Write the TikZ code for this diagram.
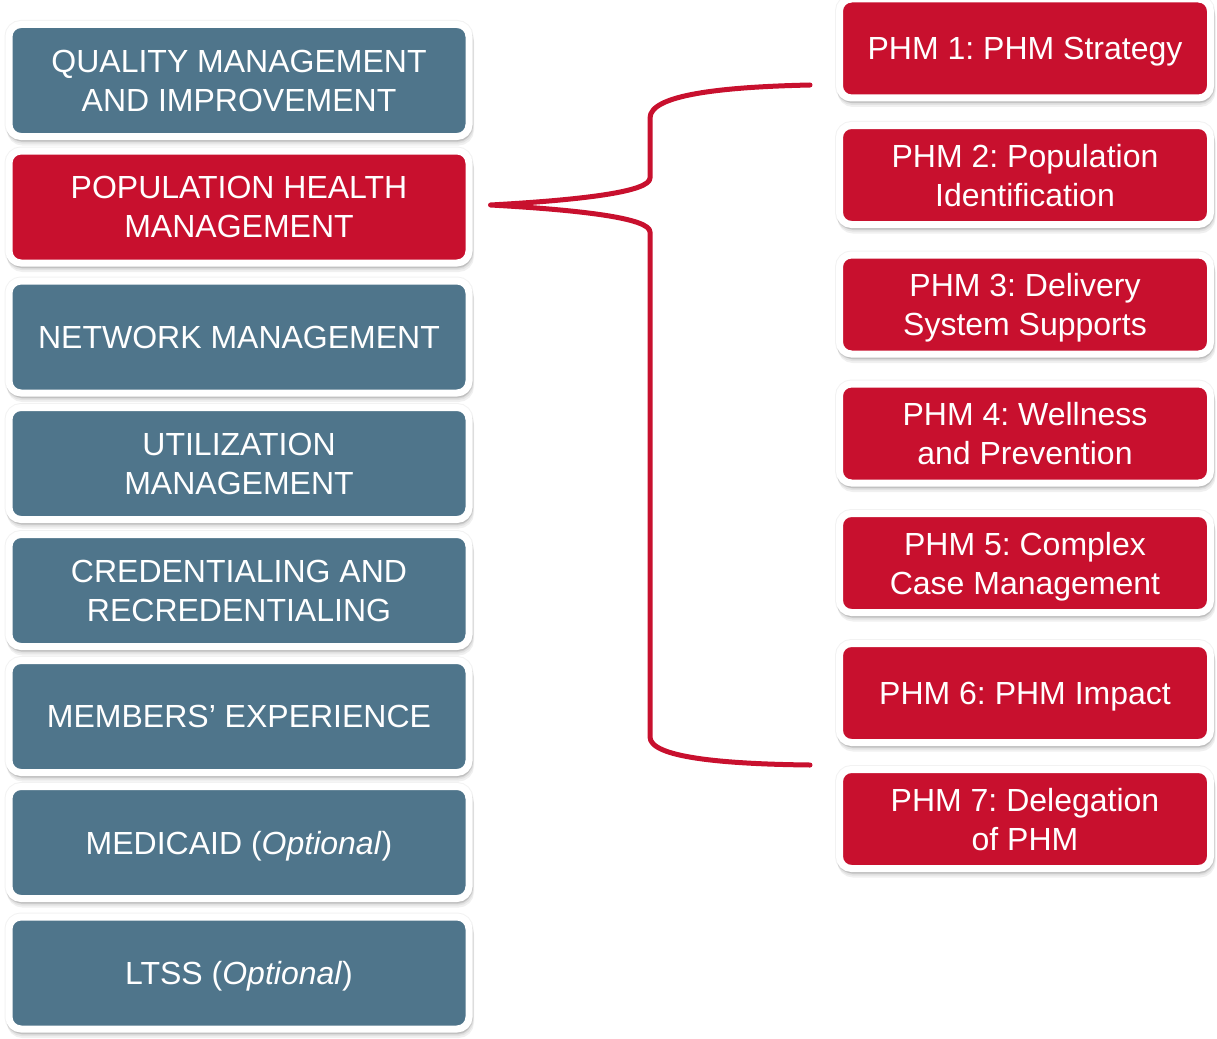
\documentclass[tikz,border=0pt]{standalone}
\usepackage{fontspec}
\setmainfont{Liberation Sans}
\usetikzlibrary{shadows,calc}
\definecolor{slate}{RGB}{79,117,139}
\definecolor{crimson}{RGB}{200,16,46}
\frenchspacing
\tikzset{
  softshadow/.style={
    general shadow={fill=black, draw=black, line width=9pt, opacity=0.05, shadow xshift=0pt, shadow yshift=0pt},
    general shadow={fill=black, draw=black, line width=7pt, opacity=0.06, shadow xshift=0.5pt, shadow yshift=-1.5pt},
    general shadow={fill=black, draw=black, line width=7pt, opacity=0.06, shadow xshift=1pt, shadow yshift=-3.5pt},
    general shadow={fill=black, draw=black, line width=7pt, opacity=0.06, shadow xshift=1.5pt, shadow yshift=-5.5pt}},
  card/.style={softshadow, rounded corners=12pt, draw=white, line width=7pt,
    text=white, align=center, inner sep=0pt, text depth=0pt,
    font=\fontsize{32}{39}\selectfont},
  topic/.style={card, fill=slate, minimum width=460pt, minimum height=112pt},
  focus/.style={card, fill=crimson, minimum width=460pt, minimum height=112pt},
  element/.style={card, fill=crimson, minimum width=371pt, minimum height=99pt},
  brace/.style={draw=crimson, line width=5pt, line cap=round, line join=round}
}
\begin{document}
\begin{tikzpicture}[x=1pt, y=-1pt]
\useasboundingbox (0,0) rectangle (1217,1038);

% standards on the left
\node[topic] (qm)   at (239,80.5)  {QUALITY MANAGEMENT\\AND IMPROVEMENT};
\node[focus] (phm)  at (239,207)   {POPULATION HEALTH\\MANAGEMENT};
\node[topic] (net)  at (239,337)   {NETWORK MANAGEMENT};
\node[topic] (um)   at (239,463.5) {UTILIZATION\\MANAGEMENT};
\node[topic] (cred) at (239,590.5) {CREDENTIALING AND\\RECREDENTIALING};
\node[topic] (mem)  at (239,716.5) {MEMBERS’ EXPERIENCE};
\node[topic] (mcd)  at (239,842.5) {MEDICAID (\textit{Optional})};
\node[topic] (ltss) at (239,973)   {LTSS (\textit{Optional})};

% PHM elements on the right
\node[element] (p1) at (1025,48.5) {PHM 1: PHM Strategy};
\node[element] (p2) at (1025,175)  {PHM 2: Population\\Identification};
\node[element] (p3) at (1025,304.5){PHM 3: Delivery\\System Supports};
\node[element] (p4) at (1025,433.5){PHM 4: Wellness\\and Prevention};
\node[element] (p5) at (1025,563)  {PHM 5: Complex\\Case Management};
\node[element] (p6) at (1025,693)  {PHM 6: PHM Impact};
\node[element] (p7) at (1025,819)  {PHM 7: Delegation\\of PHM};

% curly brace from the PHM standard to its elements
\coordinate (tip)  at ($(phm.east)+(18,-2)$);
\coordinate (btop) at (810,85);
\coordinate (bbot) at (810,765);
\draw[brace] (btop) .. controls (720,87) and (650,95) .. (650,118)
  -- (650,178) .. controls (650,192) and (580,200) .. (tip)
  .. controls (580,210) and (650,218) .. (650,232)
  -- (650,737) .. controls (650,757) and (720,764) .. (bbot);
\end{tikzpicture}
\end{document}
